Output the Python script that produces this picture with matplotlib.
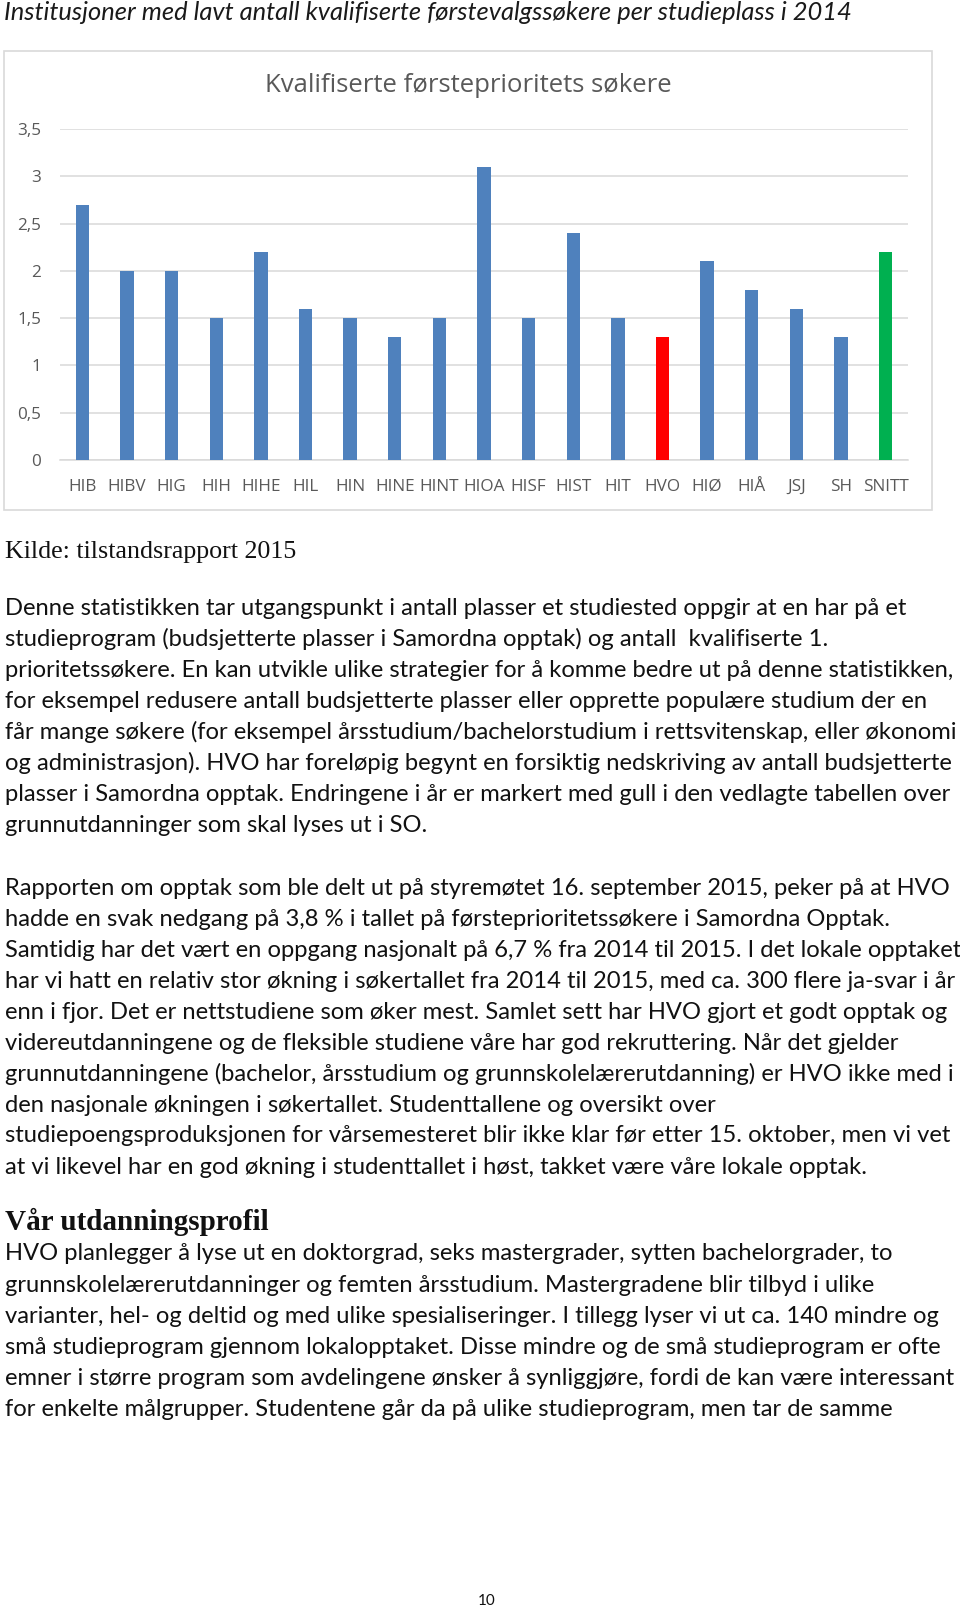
import matplotlib
matplotlib.use("Agg")
import matplotlib.pyplot as plt
from matplotlib.patches import Rectangle

# data
institusjoner = ["HIB", "HIBV", "HIG", "HIH", "HIHE", "HIL", "HIN", "HINE", "HINT", "HIOA",
                 "HISF", "HIST", "HIT", "HVO", "HIØ", "HIÅ", "JSJ", "SH", "SNITT"]
soekere = [2.7, 2.0, 2.0, 1.5, 2.2, 1.6, 1.5, 1.3, 1.5, 3.1,
           1.5, 2.4, 1.5, 1.3, 2.1, 1.8, 1.6, 1.3, 2.2]
yticks = [0, 0.5, 1, 1.5, 2, 2.5, 3, 3.5]
yticklabels = ["0", "0,5", "1", "1,5", "2", "2,5", "3", "3,5"]

sidetittel = "Institusjoner med lavt antall kvalifiserte førstevalgssøkere per studieplass i 2014"
diagramtittel = "Kvalifiserte førsteprioritets søkere"
kilde = "Kilde: tilstandsrapport 2015"

avsnitt1 = [
    "Denne statistikken tar utgangspunkt i antall plasser et studiested oppgir at en har på et",
    "studieprogram (budsjetterte plasser i Samordna opptak) og antall  kvalifiserte 1.",
    "prioritetssøkere. En kan utvikle ulike strategier for å komme bedre ut på denne statistikken,",
    "for eksempel redusere antall budsjetterte plasser eller opprette populære studium der en",
    "får mange søkere (for eksempel årsstudium/bachelorstudium i rettsvitenskap, eller økonomi",
    "og administrasjon). HVO har foreløpig begynt en forsiktig nedskriving av antall budsjetterte",
    "plasser i Samordna opptak. Endringene i år er markert med gull i den vedlagte tabellen over",
    "grunnutdanninger som skal lyses ut i SO.",
]
avsnitt2 = [
    "Rapporten om opptak som ble delt ut på styremøtet 16. september 2015, peker på at HVO",
    "hadde en svak nedgang på 3,8 % i tallet på førsteprioritetssøkere i Samordna Opptak.",
    "Samtidig har det vært en oppgang nasjonalt på 6,7 % fra 2014 til 2015. I det lokale opptaket",
    "har vi hatt en relativ stor økning i søkertallet fra 2014 til 2015, med ca. 300 flere ja-svar i år",
    "enn i fjor. Det er nettstudiene som øker mest. Samlet sett har HVO gjort et godt opptak og",
    "videreutdanningene og de fleksible studiene våre har god rekruttering. Når det gjelder",
    "grunnutdanningene (bachelor, årsstudium og grunnskolelærerutdanning) er HVO ikke med i",
    "den nasjonale økningen i søkertallet. Studenttallene og oversikt over",
    "studiepoengsproduksjonen for vårsemesteret blir ikke klar før etter 15. oktober, men vi vet",
    "at vi likevel har en god økning i studenttallet i høst, takket være våre lokale opptak.",
]
overskrift = "Vår utdanningsprofil"
avsnitt3 = [
    "HVO planlegger å lyse ut en doktorgrad, seks mastergrader, sytten bachelorgrader, to",
    "grunnskolelærerutdanninger og femten årsstudium. Mastergradene blir tilbyd i ulike",
    "varianter, hel- og deltid og med ulike spesialiseringer. I tillegg lyser vi ut ca. 140 mindre og",
    "små studieprogram gjennom lokalopptaket. Disse mindre og de små studieprogram er ofte",
    "emner i større program som avdelingene ønsker å synliggjøre, fordi de kan være interessant",
    "for enkelte målgrupper. Studentene går da på ulike studieprogram, men tar de samme",
]
sidetall = "10"

W, H = 960, 1610
fig = plt.figure(figsize=(W / 100, H / 100), dpi=100)
fig.patch.set_facecolor("white")

def fy(py):
    return 1 - py / H

def fx(px):
    return px / W

body_font = ["Lato", "DejaVu Sans"]
body_size = 17.1

# page title
fig.text(fx(4), fy(13), sidetittel, fontsize=18.4, style="italic", family=body_font,
         va="center", ha="left", color="#1a1a1a")

# chart frame
fig.patches.append(Rectangle((fx(4), fy(510)), fx(928), 459 / H, transform=fig.transFigure,
                             fill=False, edgecolor="#d9d9d9", linewidth=1.2))

ax = fig.add_axes([fx(60), fy(460), fx(848), 331 / H])
farger = []
for navn in institusjoner:
    if navn == "HVO":
        farger.append("#ff0000")
    elif navn == "SNITT":
        farger.append("#00b050")
    else:
        farger.append("#4f81bd")
x = range(len(institusjoner))
ax.bar(x, soekere, width=0.3, color=farger, zorder=3)
ax.set_xlim(-0.5, len(institusjoner) - 0.5)
ax.set_ylim(0, 3.5)
ax.set_yticks(yticks)
ax.set_yticklabels(yticklabels)
ax.set_xticks(list(x))
ax.set_xticklabels(institusjoner)
ax.grid(axis="y", color="#d9d9d9", linewidth=1.1, zorder=0)
ax.set_axisbelow(True)
for s in ["top", "right", "left"]:
    ax.spines[s].set_visible(False)
ax.spines["bottom"].set_color("#d9d9d9")
ax.spines["bottom"].set_linewidth(1.1)
ax.tick_params(axis="both", length=0, labelcolor="#595959", labelsize=12.3)
ax.tick_params(axis="x", pad=13.5)
ax.tick_params(axis="y", pad=13.5)
for lab in ax.get_xticklabels() + ax.get_yticklabels():
    lab.set_family(["Open Sans", "DejaVu Sans"])
ax.set_facecolor("none")

fig.text(fx(468), fy(86), diagramtittel, fontsize=18.5, family=["Open Sans", "DejaVu Sans"],
         color="#595959", ha="center", va="center")

# source line
fig.text(fx(5), fy(552), kilde, fontsize=18.7, family=["Liberation Serif", "DejaVu Serif"],
         ha="left", va="center", color="#111111")

def skriv(linjer, y0, steg=31.0):
    for i, linje in enumerate(linjer):
        fig.text(fx(5), fy(y0 + i * steg), linje, fontsize=body_size, family=body_font,
                 ha="left", va="center", color="#111111")

skriv(avsnitt1, 608)
skriv(avsnitt2, 888)
fig.text(fx(5), fy(1222), overskrift, fontsize=21, weight="bold",
         family=["Liberation Serif", "DejaVu Serif"], ha="left", va="center", color="#111111")
skriv(avsnitt3, 1254)

fig.text(fx(487), fy(1601), sidetall, fontsize=11, family=body_font, ha="center", va="center",
         color="#111111")

fig.savefig("out.png", dpi=100)
